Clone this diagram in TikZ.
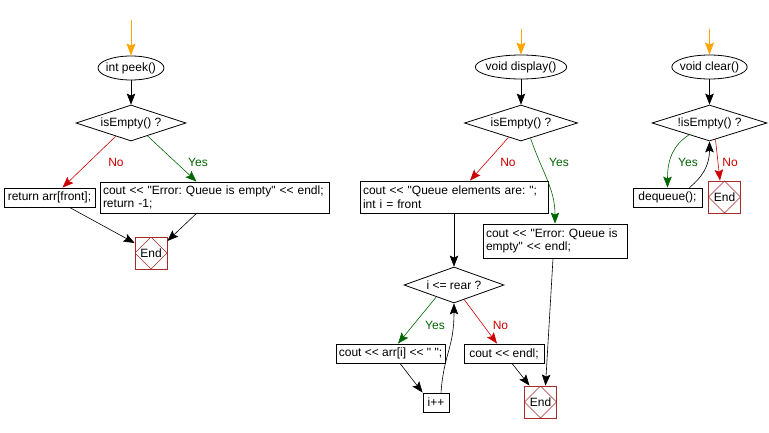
\documentclass[tikz,border=0pt]{standalone}
\usepackage{fontspec}
\newfontfamily\chartfont{Liberation Sans}
\usepackage{xcolor}
\usepackage{tikz}
\usetikzlibrary{positioning, arrows.meta, shapes.geometric, calc}
\definecolor{flowOrange}{HTML}{FFA500}
\definecolor{flowRed}{HTML}{CC0000}
\definecolor{flowGreen}{HTML}{006400}
\definecolor{endBrown}{HTML}{A52A2A}
\frenchspacing

\begin{document}
\begin{tikzpicture}[
  x=1pt, y=-1pt,
  every node/.style={font=\chartfont\fontsize{12}{13.5}\selectfont, text=black},
  fnbox/.style={ellipse, draw=black, line width=0.8pt, minimum height=24pt,
              inner xsep=-3pt, inner ysep=0pt},
  testbox/.style={diamond, aspect=3, draw=black, line width=0.8pt, minimum width=110pt,
              minimum height=36pt, inner sep=0pt},
  stmtbox/.style={rectangle, draw=black, line width=0.8pt, minimum height=19pt,
              inner sep=2pt},
  codebox/.style={stmtbox, align=left, inner xsep=3pt, inner ysep=2pt},
  endbox/.style={rectangle, draw=endBrown, line width=0.8pt, minimum width=32pt,
              minimum height=32pt, inner sep=0pt,
              path picture={\draw[endBrown, line width=0.6pt]
                (path picture bounding box.north) -- (path picture bounding box.east)
                -- (path picture bounding box.south) -- (path picture bounding box.west) -- cycle;}},
  entry/.style={->, >={Stealth[length=12pt, width=9pt, inset=2pt]}, flowOrange, line width=0.8pt},
  arrv/.style={->, >={Stealth[length=11pt, width=8.5pt, inset=2pt]}, black, line width=0.6pt},
  arryes/.style={arrv, flowGreen},
  arrno/.style={arrv, flowRed},
  yeslbl/.style={text=flowGreen},
  nolbl/.style={text=flowRed},
]
  \useasboundingbox (0,0) rectangle (769,433);

  % ═══ int peek() ═══
  \coordinate (peek_in) at (131, 20);
  \node[fnbox, minimum width=66pt] at (131, 68) (peek) {int peek()};
  \node[testbox] at (131, 123) (peektest) {isEmpty() ?};
  \node[stmtbox, minimum width=91pt] at (49.5, 197.5) (peekret) {return arr[front];};
  \node[codebox, text width=223pt, minimum height=31pt] at (214.5, 197.5) (peekerr)
        {cout << "Error: Queue is empty" << endl;\\return -1;};
  \node[endbox] at (151, 253) (peekend) {End};
  \node[nolbl] at (116, 162) (peekno) {No};
  \node[yeslbl] at (198, 162) (peekyes) {Yes};

  \draw[entry] (peek_in) -- (peek.north);
  \draw[arrv] (peek.south) -- (peektest.north);
  \draw[arrno] (peektest.221) -- ([xshift=13pt]peekret.north);
  \draw[arryes] (peektest.322) -- ([xshift=-18pt]peekerr.north);
  \draw[arrv] ([xshift=20pt]peekret.south) -- ([yshift=10pt]peekend.west);
  \draw[arrv] ([xshift=-18pt]peekerr.south) -- ([yshift=12pt]peekend.east);

  % ═══ void display() ═══
  \coordinate (disp_in) at (521, 29);
  \node[fnbox, minimum width=89pt] at (521, 67) (disp) {void display()};
  \node[testbox, minimum width=113pt] at (521, 123) (disptest) {isEmpty() ?};
  \node[codebox, text width=182pt, minimum height=32pt] at (454, 197) (dispinit)
        {cout << "Queue elements are: ";\\int i = front};
  \node[codebox, text width=138pt, minimum height=34pt] at (555, 241) (disperr)
        {cout << "Error: Queue is\\empty" << endl;};
  \node[nolbl] at (508, 162) (dispno) {No};
  \node[yeslbl] at (559, 162) (dispyes) {Yes};

  \draw[entry] (disp_in) -- (disp.north);
  \draw[arrv] (disp.south) -- (disptest.north);
  \draw[arrno] (disptest.229) -- ([xshift=16pt]dispinit.north);
  \draw[arryes] (disptest.302) .. controls +(12,35) and +(0,-35) .. (disperr.north);

  % the loop over the elements
  \node[testbox, minimum width=100pt] at (454, 285) (looptest) {i <= rear ?};
  \node[stmtbox, minimum width=109pt] at (390.5, 353.5) (loopout) {cout << arr[i] << " ";};
  \node[stmtbox, minimum width=80pt] at (504, 353.5) (loopendl) {cout << endl;};
  \node[stmtbox, minimum width=26pt] at (436, 402.5) (loopinc) {i++};
  \node[endbox] at (540.5, 402) (dispend) {End};
  \node[yeslbl] at (435, 325) (loopyes) {Yes};
  \node[nolbl] at (500.5, 325) (loopno) {No};

  \draw[arrv] (dispinit.south) -- (looptest.north);
  \draw[arryes] (looptest.214) -- ([xshift=7.5pt]loopout.north);
  \draw[arrno] (looptest.305) -- ([xshift=-7pt]loopendl.north);
  \draw[arrv] ([xshift=9.5pt]loopout.south) -- (loopinc.north west);
  \draw[arrv] ([xshift=5pt]loopinc.north) .. controls +(3,-40) and +(0,45) .. (looptest.south);
  \draw[arrv] ([xshift=8pt]loopendl.south) -- ([xshift=-11pt]dispend.north);
  \draw[arrv] ([xshift=-2pt]disperr.south) -- ([xshift=5pt]dispend.north);

  % ═══ void clear() ═══
  \coordinate (clr_in) at (709.5, 29);
  \node[fnbox, minimum width=74pt] at (709.5, 67) (clr) {void clear()};
  \node[testbox, minimum width=115pt] at (709.5, 123) (clrtest) {!isEmpty() ?};
  \node[stmtbox, minimum width=69pt] at (667.5, 197.5) (clrdeq) {dequeue();};
  \node[endbox] at (724.5, 197) (clrend) {End};
  \node[yeslbl] at (688, 162) (clryes) {Yes};
  \node[nolbl] at (730, 162) (clrno) {No};

  \draw[entry] (clr_in) -- (clr.north);
  \draw[arrv] (clr.south) -- (clrtest.north);
  \draw[arryes] (clrtest.210) .. controls +(-15,10) and +(0,-30) .. (clrdeq.north);
  \draw[arrno] (clrtest.290) -- ([xshift=-4.5pt]clrend.north);
  \draw[arrv] ([xshift=22pt]clrdeq.north) .. controls +(12,-10) and +(0,25) .. (clrtest.south);
\end{tikzpicture}
\end{document}
